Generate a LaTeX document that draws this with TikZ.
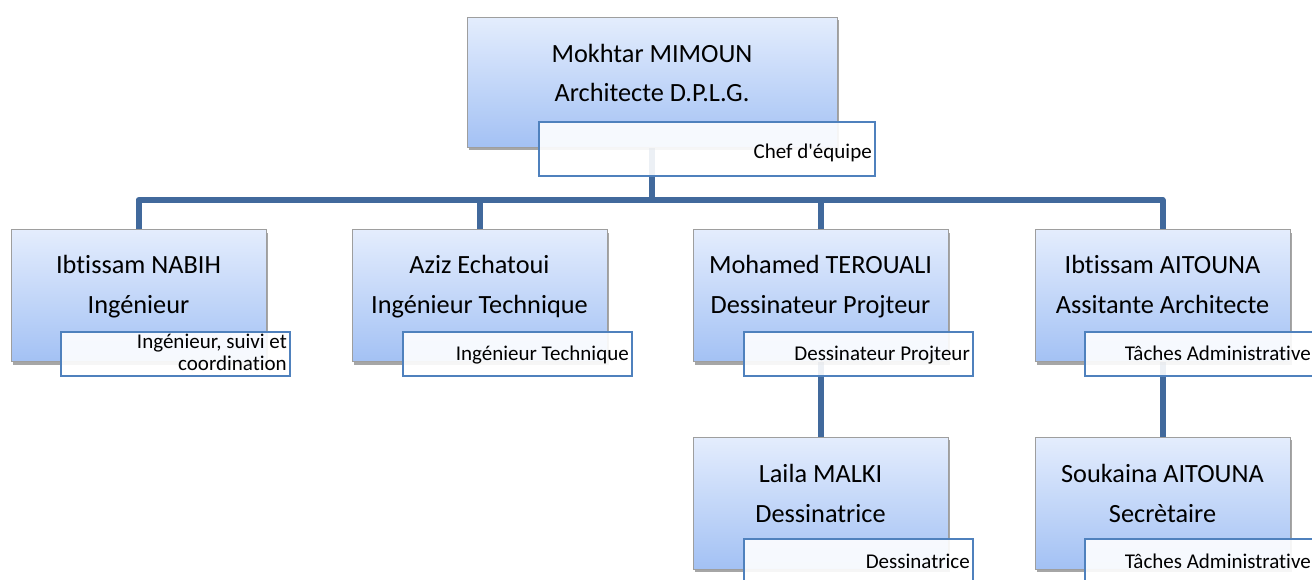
\documentclass[tikz,border=0pt]{standalone}
\usepackage{fontspec}
\setmainfont{Carlito}[Ligatures={NoCommon}]
\usetikzlibrary{shadows}
\definecolor{topc}{HTML}{E4EDFD}
\definecolor{botc}{HTML}{A3C1F4}
\definecolor{connc}{HTML}{41699C}
\definecolor{subb}{HTML}{4F81BD}
\tikzset{
 mainbox/.style={draw=black!38, line width=1pt, top color=topc, bottom color=botc,
   minimum width=255pt, minimum height=132pt, inner sep=0pt,
   drop shadow={shadow xshift=2pt, shadow yshift=-3pt, opacity=0.35, fill=black}},
 subbox/.style={draw=subb, line width=1.5pt, fill=white, fill opacity=0.9, draw opacity=1,
   minimum width=229pt, minimum height=44pt, inner sep=0pt},
 maintext/.style={font=\fontsize{26.3}{31}\selectfont, anchor=base, inner sep=0pt},
 subtext/.style={font=\fontsize{21}{23}\selectfont, anchor=base east, inner sep=0pt},
 connector/.style={connc, line width=6pt, line join=round}
}
\begin{document}
\begin{tikzpicture}[x=1pt, y=-1pt]
\path[use as bounding box, clip] (0,0) rectangle (1312,579);
% connectors
\coordinate (j0) at (652,200);
\coordinate (topbot) at (652,147);
\coordinate (n1top) at (138.5,229);
\coordinate (n2top) at (479.5,229);
\coordinate (n3top) at (820.5,229);
\coordinate (n4top) at (1162.5,229);
\coordinate (n3bot) at (820.5,362);
\coordinate (n4bot) at (1162.5,362);
\coordinate (n5top) at (820.5,437);
\coordinate (n6top) at (1162.5,437);
\draw[connector] (topbot) -- (j0);
\draw[connector] (j0) -| (n1top);
\draw[connector] (j0) -| (n2top);
\draw[connector] (j0) -| (n3top);
\draw[connector] (j0) -| (n4top);
\draw[connector] (n3bot) -- (n5top);
\draw[connector] (n4bot) -- (n6top);
% main boxes
\node[mainbox, minimum width=370pt, minimum height=130pt] (top) at (652,82) {};
\node[mainbox] (n1) at (138.5,295.5) {};
\node[mainbox] (n2) at (479.5,295.5) {};
\node[mainbox] (n3) at (820.5,295.5) {};
\node[mainbox] (n4) at (1162.5,295.5) {};
\node[mainbox] (n5) at (820.5,503) {};
\node[mainbox] (n6) at (1162.5,503) {};
% sub boxes
\node[subbox, minimum width=336pt, minimum height=54pt] (s0) at (707,149) {};
\node[subbox] (s1) at (175.5,354) {};
\node[subbox] (s2) at (517.5,354) {};
\node[subbox] (s3) at (858.5,354) {};
\node[subbox] (s4) at (1199.5,354) {};
\node[subbox] (s5) at (858.5,561) {};
\node[subbox] (s6) at (1199.5,561) {};
% main texts
\node[maintext] (t0a) at (652,62) {Mokhtar MIMOUN};
\node[maintext] (t0b) at (652,101) {Architecte D.P.L.G.};
\node[maintext] (t1a) at (138.5,273) {Ibtissam NABIH};
\node[maintext] (t1b) at (138.5,313) {Ingénieur};
\node[maintext] (t2a) at (479.5,273) {Aziz Echatoui};
\node[maintext] (t2b) at (479.5,313) {Ingénieur Technique};
\node[maintext] (t3a) at (820.5,273) {Mohamed TEROUALI};
\node[maintext] (t3b) at (820.5,313) {Dessinateur Projteur};
\node[maintext] (t4a) at (1162.5,273) {Ibtissam AITOUNA};
\node[maintext] (t4b) at (1162.5,313) {Assitante Architecte};
\node[maintext] (t5a) at (820.5,482) {Laila MALKI};
\node[maintext] (t5b) at (820.5,522) {Dessinatrice};
\node[maintext] (t6a) at (1162.5,482) {Soukaina AITOUNA};
\node[maintext] (t6b) at (1162.5,522) {Secrètaire};
% sub texts
\node[subtext] (u0) at (872,158) {Chef d\textquotesingle équipe};
\node[subtext] (u1a) at (287,348) {Ingénieur, suivi et};
\node[subtext] (u1b) at (287,370) {coordination};
\node[subtext] (u2) at (629,360) {Ingénieur Technique};
\node[subtext] (u3) at (970,360) {Dessinateur Projteur};
\node[subtext] (u4) at (1311,360) {Tâches Administrative};
\node[subtext] (u5) at (970,568) {Dessinatrice};
\node[subtext] (u6) at (1311,568) {Tâches Administrative};
\end{tikzpicture}
\end{document}
